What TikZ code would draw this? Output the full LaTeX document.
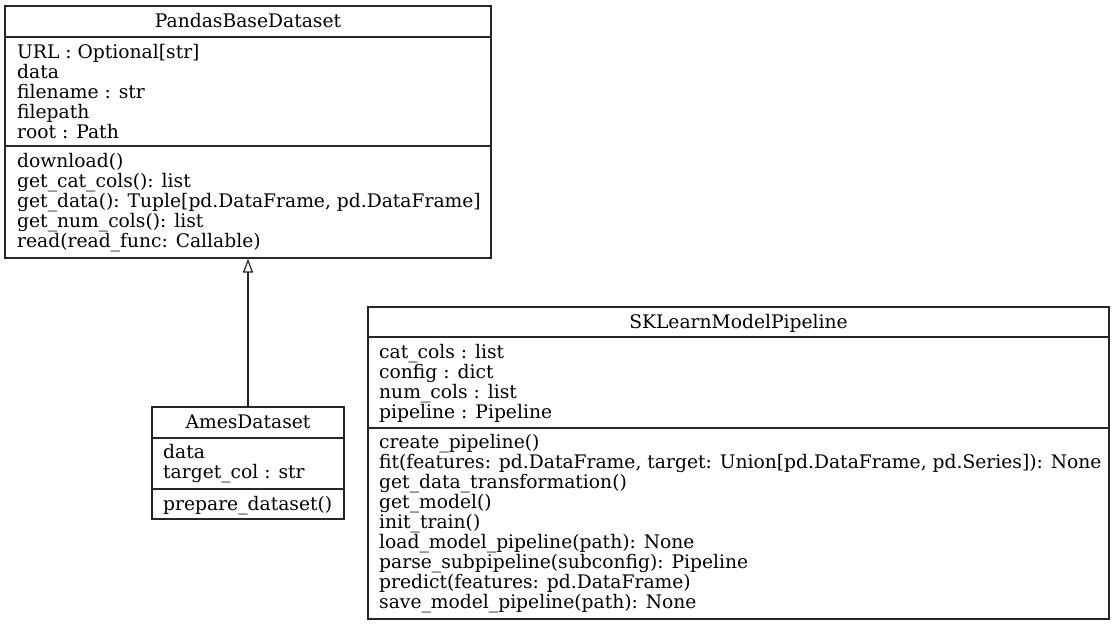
\documentclass[tikz,border=0pt]{standalone}
\usepackage{fontspec}
\setmainfont{DejaVu Serif}
\usetikzlibrary{arrows.meta}
\tikzset{
  box/.style={draw=black!85, line width=1.2pt, rectangle, inner sep=0pt},
  sep/.style={draw=black!85, line width=1.2pt},
  lbl/.style={anchor=base west, inner sep=0pt, font=\fontsize{18.7}{20}\selectfont},
  ttl/.style={anchor=base, inner sep=0pt, font=\fontsize{18.7}{20}\selectfont},
  inherit/.style={draw=black!85, line width=1.2pt, -{Triangle[open,length=14pt,width=10pt]}}
}
\begin{document}
\begin{tikzpicture}[x=1pt,y=-1pt]
\useasboundingbox (0,0) rectangle (1115,625);
% PandasBaseDataset
\node[box, minimum width=486pt, minimum height=252pt] (pbd) at (248,132) {};
\draw[sep] (pbd.west |- 0,37) -- (pbd.east |- 0,37);
\draw[sep] (pbd.west |- 0,146) -- (pbd.east |- 0,146);
\node[ttl] (pbdt) at (248,27) {PandasBaseDataset};
\foreach \t [count=\i] in {URL : Optional[str], data, filename : str, filepath, root : Path}
  \node[lbl] (pa\i) at (17,38+20*\i) {\t};
\foreach \t [count=\i] in {download(), get\_cat\_cols(): list, {get\_data(): Tuple[pd.DataFrame, pd.DataFrame]}, get\_num\_cols(): list, read(read\_func: Callable)}
  \node[lbl] (pm\i) at (17,147+20*\i) {\t};
% AmesDataset
\node[box, minimum width=192pt, minimum height=112pt] (ames) at (248,463) {};
\draw[sep] (ames.west |- 0,438) -- (ames.east |- 0,438);
\draw[sep] (ames.west |- 0,489) -- (ames.east |- 0,489);
\node[ttl] (amest) at (248,428) {AmesDataset};
\node[lbl] (aa1) at (163,458) {data};
\node[lbl] (aa2) at (163,478) {target\_col : str};
\node[lbl] (am1) at (163,510) {prepare\_dataset()};
% SKLearnModelPipeline
\node[box, minimum width=741pt, minimum height=312pt] (skl) at (738.5,463) {};
\draw[sep] (skl.west |- 0,337) -- (skl.east |- 0,337);
\draw[sep] (skl.west |- 0,428) -- (skl.east |- 0,428);
\node[ttl] (sklt) at (738.5,328) {SKLearnModelPipeline};
\foreach \t [count=\i] in {cat\_cols : list, config : dict, num\_cols : list, pipeline : Pipeline}
  \node[lbl] (sa\i) at (379,338+20*\i) {\t};
\foreach \t [count=\i] in {create\_pipeline(), {fit(features: pd.DataFrame, target: Union[pd.DataFrame, pd.Series]): None}, get\_data\_transformation(), get\_model(), init\_train(), load\_model\_pipeline(path): None, parse\_subpipeline(subconfig): Pipeline, predict(features: pd.DataFrame), save\_model\_pipeline(path): None}
  \node[lbl] (sm\i) at (379,428+20*\i) {\t};
% inheritance
\draw[inherit] (ames.north) -- (pbd.south);
\end{tikzpicture}
\end{document}
